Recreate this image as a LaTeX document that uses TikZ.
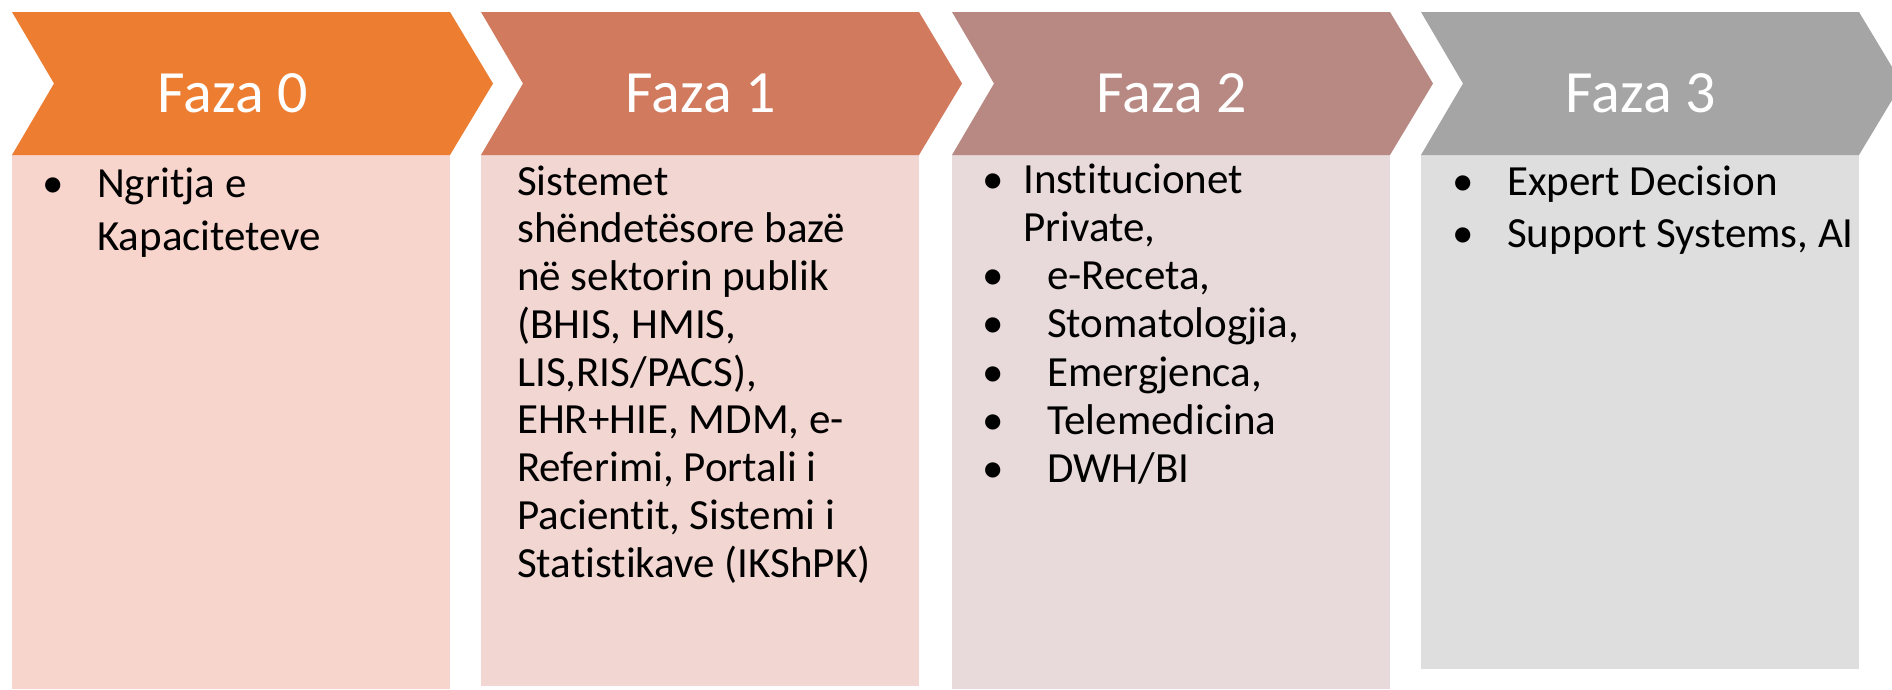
\documentclass[tikz,border=0pt]{standalone}
\usepackage{fontspec}
\setmainfont{Carlito}[RawFeature=-liga]
\definecolor{cA}{HTML}{ED7D31}\definecolor{bA}{HTML}{F8D5CC}
\definecolor{cB}{HTML}{D17A5E}\definecolor{bB}{HTML}{F1D6D2}
\definecolor{cC}{HTML}{B88983}\definecolor{bC}{HTML}{E8DADA}
\definecolor{cD}{HTML}{A5A5A5}\definecolor{bD}{HTML}{DEDEDE}
\tikzset{
  phasetitle/.style={anchor=base,inner sep=0pt,text=white,font=\fontsize{60}{72}\selectfont},
  bodyline/.style={anchor=base west,inner sep=0pt,font=\fontsize{43}{52}\selectfont},
  bulletmark/.style={anchor=base,inner sep=0pt,font=\fontsize{43}{52}\selectfont},
}
\newcommand\chev[2]{% left x, color
  \fill[#2] (#1,12) -- (#1+438,12) -- (#1+481,83.5) -- (#1+438,155) -- (#1,155) -- (#1+42,83.5) -- cycle;
}
\begin{document}
\begin{tikzpicture}[x=1pt,y=-1pt]
\useasboundingbox (0,0) rectangle (1892,689);
\clip (0,0) rectangle (1892,689);
% boxes
\fill[bA] (12,155) rectangle (450,689);
\fill[bB] (481,155) rectangle (919,686);
\fill[bC] (952,155) rectangle (1390,689);
\fill[bD] (1421,155) rectangle (1859,669);
% chevrons
\chev{12}{cA}
\chev{481}{cB}
\chev{952}{cC}
\chev{1421}{cD}
% titles
\node[phasetitle] (t0) at (233,112) {Faza 0};
\node[phasetitle] (t1) at (701,112) {Faza 1};
\node[phasetitle] (t2) at (1172,112) {Faza 2};
\node[phasetitle] (t3) at (1641,112) {Faza 3};
% box 0
\node[bulletmark] (b0a) at (53,197) {•};
\node[bodyline] (l0a) at (97,197) {Ngritja e};
\node[bodyline] (l0b) at (97,250) {Kapaciteteve};
% box 1
\node[bodyline] (l1a) at (517,195) {Sistemet};
\node[bodyline] (l1b) at (517,242.75) {shëndetësore bazë};
\node[bodyline] (l1c) at (517,290.5) {në sektorin publik};
\node[bodyline] (l1d) at (517,338.25) {(BHIS, HMIS,};
\node[bodyline] (l1e) at (517,386) {LIS,RIS/PACS),};
\node[bodyline] (l1f) at (517,433.75) {EHR+HIE, MDM, e-};
\node[bodyline] (l1g) at (517,481.5) {Referimi, Portali i};
\node[bodyline] (l1h) at (517,529.25) {Pacientit, Sistemi i};
\node[bodyline] (l1i) at (517,577) {Statistikave (IKShPK)};
% box 2
\node[bulletmark] (b2a) at (993,193) {•};
\node[bodyline] (l2a) at (1023,193) {Institucionet};
\node[bodyline] (l2b) at (1023,241.3) {Private,};
\node[bulletmark] (b2c) at (993,289.6) {•};
\node[bodyline] (l2c) at (1047,289.6) {e-Receta,};
\node[bulletmark] (b2d) at (993,337.9) {•};
\node[bodyline] (l2d) at (1047,337.9) {Stomatologjia,};
\node[bulletmark] (b2e) at (993,386.2) {•};
\node[bodyline] (l2e) at (1047,386.2) {Emergjenca,};
\node[bulletmark] (b2f) at (993,434.5) {•};
\node[bodyline] (l2f) at (1047,434.5) {Telemedicina};
\node[bulletmark] (b2g) at (993,482.8) {•};
\node[bodyline] (l2g) at (1047,482.8) {DWH/BI};
% box 3
\node[bulletmark] (b3a) at (1463,195) {•};
\node[bodyline] (l3a) at (1507,195) {Expert Decision};
\node[bulletmark] (b3b) at (1463,247) {•};
\node[bodyline] (l3b) at (1507,247) {Support Systems, AI};
\end{tikzpicture}
\end{document}
